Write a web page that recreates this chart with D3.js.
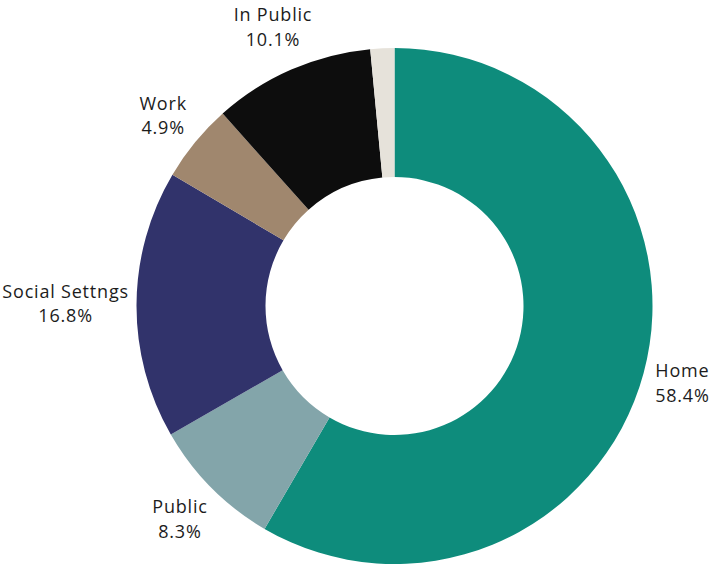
<!DOCTYPE html>
<html>
<head>
<meta charset="utf-8">
<script src="https://cdn.jsdelivr.net/npm/d3@7"></script>
<style>
  html, body { margin: 0; padding: 0; background: #ffffff; }
  svg { display: block; }
  .lbl { font-family: "Open Sans", "DejaVu Sans", sans-serif; font-size: 18px; letter-spacing: 0.8px; fill: #1c1c1c; }
</style>
</head>
<body>
<svg id="chart" width="710" height="567"></svg>
<script>
// Where the incidents took place (share of total, %)
const categories = ["Home", "Public", "Social Settngs", "Work", "In Public", "Other"];
const values     = [58.4, 8.3, 16.8, 4.9, 10.1, 1.5];
const colors     = ["#0e8c7c", "#83a5aa", "#31336b", "#a0876e", "#0d0d0d", "#e6e2da"];
const showLabel  = [true, true, true, true, true, false];

const W = 710, H = 567;
const cx = 394.5, cy = 306;
const outerR = 258, innerR = 129;
const labelGap = 7.5;

const svg = d3.select("#chart");
const g = svg.append("g").attr("transform", `translate(${cx},${cy})`);

const data = categories.map((c, i) => ({ name: c, value: values[i], color: colors[i], show: showLabel[i] }));

const pie = d3.pie().value(d => d.value).sort(null);
const arc = d3.arc().innerRadius(innerR).outerRadius(outerR);
const arcs = pie(data);

g.selectAll("path.slice")
  .data(arcs)
  .join("path")
  .attr("class", "slice")
  .attr("d", arc)
  .attr("fill", d => d.data.color);

// Labels sit outside the ring, pushed out along the slice's mid-angle
// until their box clears a circle just beyond the outer radius.
const fmt = v => v.toFixed(1) + "%";
const lineH = 24.6;

const labels = g.selectAll("text.lbl")
  .data(arcs.filter(d => d.data.show))
  .join("text")
  .attr("class", "lbl")
  .attr("text-anchor", "middle");

labels.each(function(d) {
  const t = d3.select(this);
  t.append("tspan").attr("x", 0).attr("dy", 0).text(d.data.name);
  t.append("tspan").attr("x", 0).attr("dy", lineH).text(fmt(d.data.value));
});

labels.each(function(d) {
  const t = d3.select(this);
  const bb = this.getBBox();
  const w = bb.width, h = 2 * lineH;
  const a = (d.startAngle + d.endAngle) / 2;
  const vx = Math.sin(a), vy = -Math.cos(a);
  const extent = Math.abs(vx) * w / 2 + Math.abs(vy) * h / 2;
  const dist = outerR + labelGap + extent;
  const px = vx * dist, py = vy * dist;
  // centre the two-line block vertically on (px, py)
  const firstBaseline = py - lineH / 2 + 6;
  t.attr("transform", `translate(${px},${firstBaseline})`);
});
</script>
</body>
</html>
